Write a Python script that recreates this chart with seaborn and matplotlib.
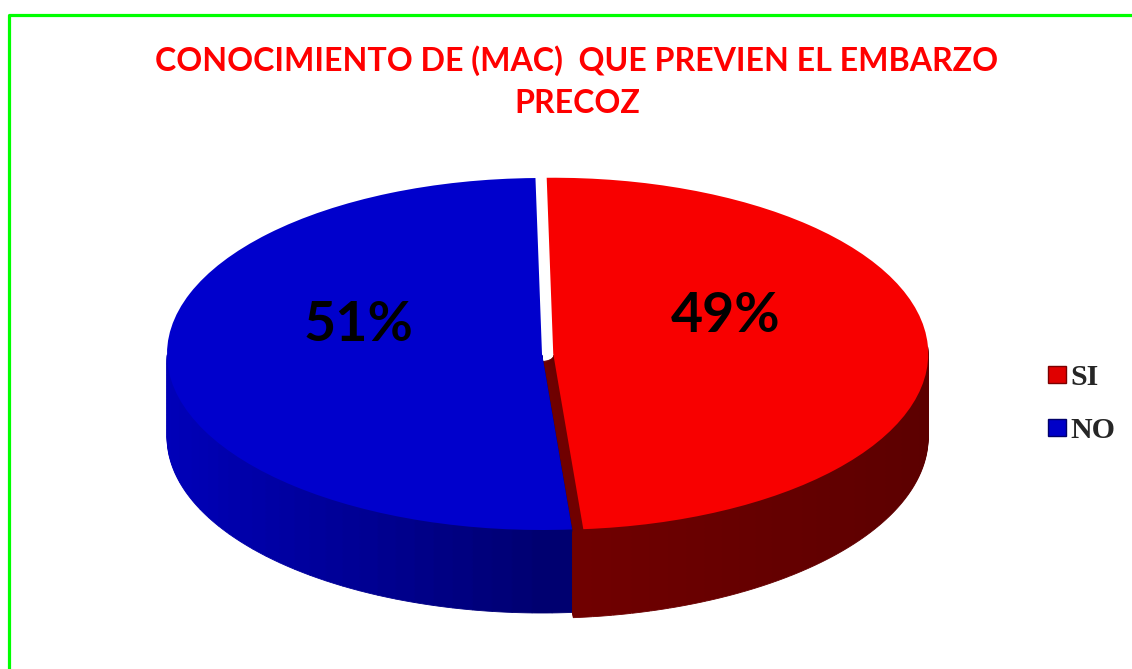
import numpy as np
import matplotlib
matplotlib.use("Agg")
import matplotlib.pyplot as plt
import seaborn as sns
from matplotlib.patches import Patch
from matplotlib.lines import Line2D

# data
labels = ["SI", "NO"]
values = [49, 51]
top_colors = ["#F80000", "#0000CC"]
side_colors = [["#720000", "#5C0000"], ["#0000B8", "#000070"]]
explode = [0.03, 0.0]
start_angle = 91
title = "CONOCIMIENTO DE (MAC)  QUE PREVIEN EL EMBARZO\nPRECOZ"

sns.set_style("white")
plt.rcParams["font.family"] = ["Lato", "DejaVu Sans"]

W, H = 1132, 669
fig = plt.figure(figsize=(W / 100, H / 100), dpi=100)

# axes sized so that one x unit = rx px and one y unit = ry px
rx, ry = 375, 176
cx, cy = 542, 354
x0, x1 = -1.3, 1.3
y0, y1 = -1.7, 1.25
left = (cx + x0 * rx) / W
bottom = (H - (cy - y0 * ry)) / H
ax = fig.add_axes([left, bottom, (x1 - x0) * rx / W, (y1 - y0) * ry / H])

# side of the 3d pie: stack of shifted pies, split in small wedges for shading
n_sub = 60
sub_vals, sub_cols, sub_expl, front = [], [], [], []
start = float(start_angle)
total = sum(values)
for i, (v, sc, ex) in enumerate(zip(values, side_colors, explode)):
    pal = sns.blend_palette(sc, 101)
    span = 360.0 * v / total
    for k in range(n_sub):
        mid = np.radians(start - span * (k + 0.5) / n_sub)
        x = np.cos(mid)
        t = np.clip(x, 0, 1) if i == 0 else np.clip(x + 1, 0, 1)
        sub_vals.append(v / n_sub)
        sub_cols.append(pal[int(t * 100)])
        sub_expl.append(ex)
        front.append(np.sin(mid) < 0.03)
    start -= span

depth = 83 / ry
for dz in np.linspace(depth, 0.01, 60):
    ws, _ = ax.pie(sub_vals, colors=sub_cols, explode=sub_expl,
                   startangle=start_angle, counterclock=False,
                   center=(0, -dz), radius=1, wedgeprops=dict(linewidth=0.6))
    for w, f in zip(ws, front):
        w.set_edgecolor(w.get_facecolor())
        w.set_visible(f)

# top face
wedges, texts, autotexts = ax.pie(
    values, colors=top_colors, explode=explode, startangle=start_angle,
    counterclock=False, radius=1, autopct="%1.0f%%", pctdistance=0.49,
    wedgeprops=dict(linewidth=0),
    textprops=dict(fontsize=40, fontweight="bold", color="black"))
for t, ex in zip(autotexts, explode):
    px, py = t.get_position()
    t.set_position((px - ex, py + 0.19))

ax.set_aspect("auto")
ax.set_xlim(x0, x1)
ax.set_ylim(y0, y1)
ax.axis("off")

fig.text(577 / W, 1 - 82 / H, title, ha="center", va="center",
         fontsize=23.1, fontweight="bold", color="#FF0000", linespacing=1.55)

handles = [Patch(facecolor="#E00000", edgecolor="#7A0000"),
           Patch(facecolor="#0000C8", edgecolor="#00006A")]
fig.legend(handles, labels, loc="center left",
           bbox_to_anchor=(1021 / W, 1 - 404 / H), frameon=False,
           prop=dict(family="Liberation Serif", weight="bold", size=21.5),
           handlelength=0.6, handleheight=0.5, handletextpad=0.15,
           labelspacing=0.85)

# green frame lines (top and left)
fig.add_artist(Line2D([8.5 / W, 8.5 / W, 1], [0, 1 - 15 / H, 1 - 15 / H],
                      transform=fig.transFigure, color="#00FF00", lw=2.3))

fig.savefig("out.png", dpi=100, facecolor="white")
